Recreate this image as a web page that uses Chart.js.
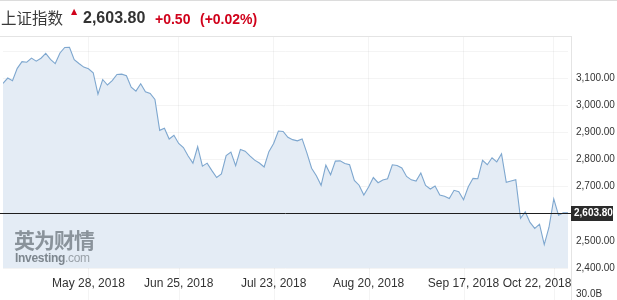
<!DOCTYPE html>
<html>
<head>
<meta charset="utf-8">
<script src="https://cdn.jsdelivr.net/npm/chart.js@4.4.0/dist/chart.umd.min.js"></script>
<style>
html,body{margin:0;padding:0;background:#fff;}
#wrap{position:relative;width:617px;height:300px;overflow:hidden;font-family:"Liberation Sans",Arial,sans-serif;}
#c{position:absolute;left:0;top:0;}
.abs{position:absolute;white-space:nowrap;}
#name{left:1px;top:9px;font:15.5px/16px "Noto Sans CJK SC",sans-serif;color:#3a3a3a;}
#arrow{left:71px;top:8px;font:8px/8px "DejaVu Sans",sans-serif;color:#d0021b;}
#price{left:83px;top:10px;font:bold 16px/16px "Liberation Sans",Arial,sans-serif;color:#333;}
#chg{left:155px;top:12px;font:bold 14px/14px "Liberation Sans",Arial,sans-serif;color:#d0021b;}
#pct{left:200px;top:12px;font:bold 14px/14px "Liberation Sans",Arial,sans-serif;color:#d0021b;}
#wm1{left:14px;top:229px;font:bold 21px/21px "Noto Sans CJK SC",sans-serif;color:#8a939b;letter-spacing:-1px;}
#wm2{left:15px;top:252px;font:bold 12px/12px "Liberation Sans",Arial,sans-serif;color:#7d868e;letter-spacing:-0.3px;}
#wm2 span{font-weight:normal;color:#9aa2a9;}
#vol{left:576px;top:289px;font:10px/10px "Liberation Sans",Arial,sans-serif;color:#333;}
</style>
</head>
<body>
<div id="wrap">
<canvas id="c" width="617" height="300"></canvas>
<div class="abs" id="name"></div>
<div class="abs" id="arrow">▲</div>
<div class="abs" id="price"></div>
<div class="abs" id="chg"></div>
<div class="abs" id="pct"></div>
<div class="abs" id="wm1">英为财情</div>
<div class="abs" id="wm2">Investing<span>.com</span></div>
<div class="abs" id="vol"></div>
</div>
<script>
// ---- data ----
const indexName = '上证指数';
const dates = [
 '05-02','05-03','05-04','05-07','05-08','05-09','05-10','05-11','05-14','05-15','05-16','05-17','05-18','05-21','05-22','05-23','05-24','05-25','05-28','05-29','05-30','05-31',
 '06-01','06-04','06-05','06-06','06-07','06-08','06-11','06-12','06-13','06-14','06-15','06-19','06-20','06-21','06-22','06-25','06-26','06-27','06-28','06-29',
 '07-02','07-03','07-04','07-05','07-06','07-09','07-10','07-11','07-12','07-13','07-16','07-17','07-18','07-19','07-20','07-23','07-24','07-25','07-26','07-27','07-30','07-31',
 '08-01','08-02','08-03','08-06','08-07','08-08','08-09','08-10','08-13','08-14','08-15','08-16','08-17','08-20','08-21','08-22','08-23','08-24','08-27','08-28','08-29','08-30','08-31',
 '09-03','09-04','09-05','09-06','09-07','09-10','09-11','09-12','09-13','09-14','09-17','09-18','09-19','09-20','09-21','09-25','09-26','09-27','09-28',
 '10-08','10-09','10-10','10-11','10-12','10-15','10-16','10-17','10-18','10-19','10-22','10-23','10-24','10-25'
];
const closes = [
 3081.18,3100.86,3091.03,3136.65,3161.50,3159.15,3174.41,3163.26,3174.03,3192.12,3169.57,3154.28,3193.30,3213.84,3214.35,3168.96,3154.65,3141.30,3135.08,3120.46,3041.44,3095.47,
 3075.14,3091.19,3114.21,3115.18,3109.50,3067.15,3052.78,3079.80,3049.80,3044.16,3021.90,2907.82,2915.73,2875.81,2889.76,2859.34,2844.51,2813.18,2786.90,2847.42,
 2775.56,2786.89,2759.13,2733.88,2747.23,2815.11,2827.63,2777.77,2837.66,2831.18,2814.04,2798.13,2787.26,2772.55,2829.27,2859.54,2905.56,2903.65,2882.23,2873.59,2869.05,2876.40,
 2824.53,2768.02,2740.44,2705.16,2779.37,2744.07,2794.38,2795.31,2785.87,2780.96,2723.26,2705.50,2668.97,2698.47,2733.80,2714.61,2724.62,2729.43,2780.90,2777.98,2769.30,2737.74,2725.25,
 2720.73,2750.58,2704.34,2691.59,2702.30,2669.48,2664.80,2656.11,2686.58,2681.64,2651.79,2699.95,2730.85,2729.24,2797.49,2781.14,2806.81,2791.77,2821.35,
 2716.51,2721.01,2725.84,2583.46,2606.91,2568.10,2546.33,2561.61,2486.42,2550.47,2654.88,2594.83,2603.30,2603.80
];
const tickDates  = ['05-28','06-25','07-23','08-20','09-17','10-22'];
const tickLabels = ['May 28, 2018','Jun 25, 2018','Jul 23, 2018','Aug 20, 2018','Sep 17, 2018','Oct 22, 2018'];
const yTicks   = [2400,2500,2600,2700,2800,2900,3000,3100,3200];
const yLabeled = [2400,2500,2700,2800,2900,3000,3100];
const lastClose = 2603.80;
const change = 0.50;
const changePct = 0.02;
const volumeLabel = '30.0B';

// ---- header text ----
const fmt2 = v => v.toLocaleString('en-US',{minimumFractionDigits:2,maximumFractionDigits:2});
document.getElementById('name').textContent = indexName;
document.getElementById('price').textContent = fmt2(lastClose);
document.getElementById('chg').textContent = '+' + fmt2(change);
document.getElementById('pct').textContent = '(+' + fmt2(changePct) + '%)';
document.getElementById('vol').textContent = volumeLabel;

const GRID = 'rgba(0,0,0,0.045)';

const decor = {
  id: 'decor',
  afterDatasetsDraw(chart) {
    const {ctx, chartArea: a, scales} = chart;
    ctx.save();
    ctx.strokeStyle = GRID; ctx.lineWidth = 1;
    scales.x.ticks.forEach(t => {
      const px = Math.round(scales.x.getPixelForValue(t.value)) + 0.5;
      ctx.beginPath(); ctx.moveTo(px, a.bottom); ctx.lineTo(px, 300); ctx.stroke();
    });
    ctx.fillStyle = '#dcdcdc'; ctx.fillRect(0, 0, 617, 1);
    ctx.fillStyle = '#e4e4e4'; ctx.fillRect(0, a.top, a.right + 3, 1);
    ctx.fillRect(a.right + 3, a.top, 1, 300 - a.top);
    const y = Math.round(scales.y.getPixelForValue(lastClose)) + 0.5;
    ctx.strokeStyle = '#1e1e1e'; ctx.lineWidth = 1;
    ctx.beginPath(); ctx.moveTo(0, y); ctx.lineTo(a.right + 3, y); ctx.stroke();
    ctx.restore();
  },
  afterDraw(chart) {
    const {ctx, chartArea: a, scales} = chart;
    const y = Math.round(scales.y.getPixelForValue(lastClose));
    ctx.save();
    ctx.fillStyle = '#2b2b2b';
    ctx.fillRect(a.right + 3, y - 7, 42, 15);
    ctx.fillStyle = '#fff';
    ctx.font = 'bold 10px "Liberation Sans", Arial, sans-serif';
    ctx.textBaseline = 'middle'; ctx.textAlign = 'left';
    ctx.fillText(fmt2(lastClose), a.right + 6, y + 0.5);
    ctx.restore();
  }
};

new Chart(document.getElementById('c'), {
  type: 'line',
  data: {
    datasets: [{
      data: closes.map((v, i) => ({x: i, y: v})),
      borderColor: '#7ea7cf',
      borderWidth: 1.1,
      backgroundColor: '#e4ecf5',
      fill: 'start',
      pointRadius: 0,
      tension: 0
    }]
  },
  options: {
    responsive: false,
    animation: false,
    events: [],
    layout: {padding: {left: 3, top: 36, right: 0, bottom: 0}},
    plugins: {legend: {display: false}, tooltip: {enabled: false}},
    scales: {
      x: {
        type: 'linear', min: 0, max: dates.length - 1,
        grid: {color: GRID, drawTicks: false},
        border: {display: false},
        afterBuildTicks: s => { s.ticks = tickDates.map(d => ({value: dates.indexOf(d)})); },
        afterFit: s => { s.height = 32; },
        ticks: {
          autoSkip: false, maxRotation: 0, padding: 8, color: '#333',
          font: {family: '"Liberation Sans", Arial, sans-serif', size: 12},
          callback: (v) => {
            const k = tickDates.indexOf(dates[v]);
            if (k < 0) return '';
            return k === tickDates.length - 1 ? tickLabels[k] + '          ' : tickLabels[k];
          }
        }
      },
      y: {
        position: 'right', min: 2400, max: 3256,
        grid: {color: GRID, drawTicks: false},
        border: {display: false},
        afterBuildTicks: s => { s.ticks = yTicks.map(v => ({value: v})); },
        afterFit: s => { s.width = 49; },
        ticks: {
          padding: 8, color: '#333',
          font: {family: '"Liberation Sans", Arial, sans-serif', size: 10},
          callback: v => yLabeled.includes(v) ? fmt2(v) : ''
        }
      }
    }
  },
  plugins: [decor]
});
</script>
</body>
</html>
